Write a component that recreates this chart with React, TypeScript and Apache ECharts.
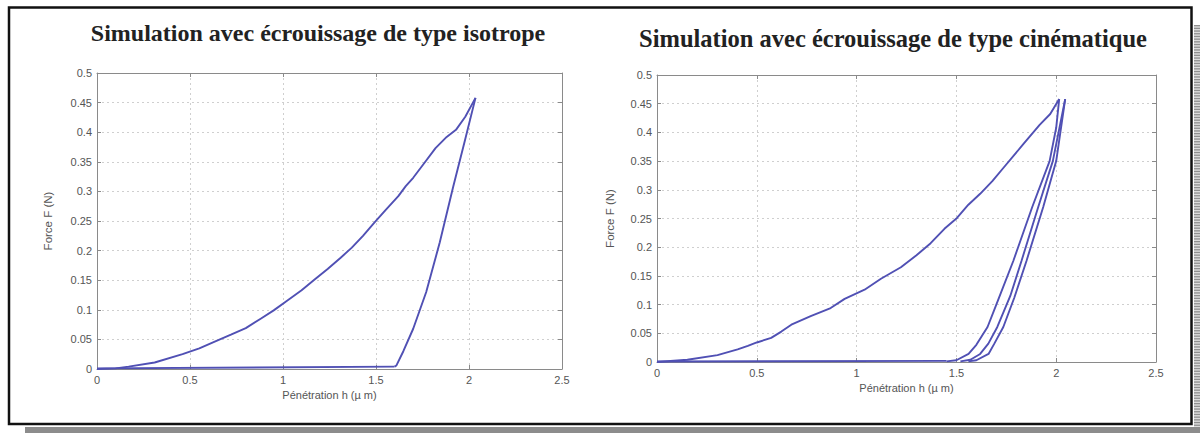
import React, { useEffect, useRef } from "react";
import * as echarts from "echarts";

// ---------- Data ----------
const titleLeft = "Simulation avec écrouissage de type isotrope";
const titleRight = "Simulation avec écrouissage de type cinématique";
const xName = "Pénétration h (µ m)";
const yName = "Force F (N)";

// Isotropic hardening: loading, unloading, residual baseline
const isoLoading: number[][] = [
  [0, 0], [0.1, 0.001], [0.17, 0.004], [0.31, 0.011], [0.46, 0.025], [0.55, 0.035],
  [0.63, 0.046], [0.72, 0.058], [0.8, 0.069], [0.88, 0.085], [0.95, 0.099], [1.02, 0.115],
  [1.1, 0.133], [1.17, 0.151], [1.24, 0.169], [1.31, 0.188], [1.37, 0.205], [1.43, 0.225],
  [1.49, 0.247], [1.55, 0.268], [1.62, 0.292], [1.66, 0.309], [1.7, 0.323], [1.76, 0.348],
  [1.82, 0.373], [1.88, 0.392], [1.93, 0.404], [1.98, 0.426], [2.035, 0.458],
];
const isoUnloading: number[][] = [
  [2.035, 0.458], [1.978, 0.386], [1.915, 0.308], [1.843, 0.214], [1.77, 0.13],
  [1.7, 0.068], [1.647, 0.03], [1.61, 0.006], [1.6, 0.004],
];
const isoBaseline: number[][] = [[1.6, 0.004], [0, 0.001]];

// Kinematic hardening: loading, then unload / reload / unload cycles
const kinLoading: number[][] = [
  [0, 0], [0.152, 0.004], [0.303, 0.012], [0.404, 0.022], [0.455, 0.028], [0.5, 0.034],
  [0.572, 0.042], [0.623, 0.053], [0.673, 0.065], [0.77, 0.08], [0.87, 0.094], [0.94, 0.11],
  [1.04, 0.126], [1.122, 0.145], [1.222, 0.165], [1.3, 0.186], [1.371, 0.207], [1.44, 0.232],
  [1.503, 0.251], [1.56, 0.274], [1.619, 0.293], [1.68, 0.315], [1.735, 0.338], [1.834, 0.379],
  [1.917, 0.413], [1.97, 0.432], [2.015, 0.458],
];
const kinUnload1: number[][] = [
  [2.015, 0.458], [2.0, 0.408], [1.967, 0.35], [1.88, 0.27], [1.785, 0.176],
  [1.7, 0.1], [1.656, 0.061], [1.6, 0.03], [1.561, 0.014], [1.5, 0.003], [1.45, 0.001],
];
const kinReload: number[][] = [
  [1.52, 0.001], [1.57, 0.004], [1.619, 0.014], [1.66, 0.032], [1.705, 0.061],
  [1.77, 0.115], [1.826, 0.176], [1.91, 0.27], [1.983, 0.35], [2.045, 0.458],
];
const kinUnload2: number[][] = [
  [2.045, 0.458], [2.0, 0.35], [1.935, 0.27], [1.851, 0.176], [1.79, 0.112],
  [1.735, 0.061], [1.69, 0.032], [1.661, 0.014], [1.6, 0.003], [1.56, 0.001],
];
const kinBaseline: number[][] = [[1.45, 0.002], [0, 0.001]];

const LINE = "#5050b4";

export default function App() {
  const ref = useRef<HTMLDivElement>(null);
  useEffect(() => {
    if (!ref.current) return;
    const chart = echarts.init(ref.current, undefined, { renderer: "svg" });

    const labelStyle = { color: "#555", fontSize: 11, fontFamily: "Liberation Sans, Arial, sans-serif" };
    const axisLineStyle = { lineStyle: { color: "#8a8a8a", width: 1 } };
    const splitLine = { show: true, lineStyle: { color: "#cfcfcf", type: [2, 3] as any, width: 1 } };

    const mainX = (gridIndex: number, gap: number) => ({
      type: "value", gridIndex, min: 0, max: 2.5, interval: 0.5, position: "bottom",
      name: xName, nameLocation: "middle", nameGap: gap,
      nameTextStyle: { ...labelStyle, fontSize: 11 },
      axisLine: { show: true, onZero: false, ...axisLineStyle },
      axisTick: { show: true, inside: true, length: 4, lineStyle: { color: "#8a8a8a" } },
      axisLabel: { ...labelStyle, margin: 5 },
      splitLine,
    });
    const topX = (gridIndex: number) => ({
      type: "value", gridIndex, min: 0, max: 2.5, interval: 0.5, position: "top",
      axisLine: { show: true, onZero: false, ...axisLineStyle },
      axisTick: { show: true, inside: true, length: 4, lineStyle: { color: "#8a8a8a" } },
      axisLabel: { show: false }, splitLine: { show: false },
    });
    const mainY = (gridIndex: number, gap: number) => ({
      type: "value", gridIndex, min: 0, max: 0.5, interval: 0.05, position: "left",
      name: yName, nameLocation: "middle", nameGap: gap,
      nameTextStyle: { ...labelStyle, fontSize: 11.5 },
      axisLine: { show: true, onZero: false, ...axisLineStyle },
      axisTick: { show: true, inside: true, length: 4, lineStyle: { color: "#8a8a8a" } },
      axisLabel: { ...labelStyle, margin: 5, formatter: (v: number) => String(Math.round(v * 100) / 100) },
      splitLine,
    });
    const rightY = (gridIndex: number) => ({
      type: "value", gridIndex, min: 0, max: 0.5, interval: 0.05, position: "right",
      axisLine: { show: true, onZero: false, ...axisLineStyle },
      axisTick: { show: true, inside: true, length: 4, lineStyle: { color: "#8a8a8a" } },
      axisLabel: { show: false }, splitLine: { show: false },
    });

    const line = (data: number[][], xi: number, yi: number) => ({
      type: "line", xAxisIndex: xi, yAxisIndex: yi, data, showSymbol: false, symbol: "none",
      smooth: false, lineStyle: { color: LINE, width: 1.9 }, z: 5,
    });

    const stripes: any[] = [];
    for (let y = 25; y < 433; y += 2.7) {
      stripes.push({ type: "rect", shape: { x: 1194, y, width: 6, height: 1.3 }, style: { fill: "#8f8f8f" }, silent: true });
    }

    chart.setOption({
      animation: false,
      backgroundColor: "#ffffff",
      grid: [
        { left: 97, right: 638, top: 73, bottom: 64, show: false },
        { left: 657, right: 44, top: 75, bottom: 71, show: false },
      ],
      xAxis: [mainX(0, 19), topX(0), mainX(1, 15), topX(1)],
      yAxis: [mainY(0, 43), rightY(0), mainY(1, 41), rightY(1)],
      series: [
        line(isoLoading, 0, 0),
        line(isoUnloading, 0, 0),
        line(isoBaseline, 0, 0),
        line(kinLoading, 2, 2),
        line(kinUnload1, 2, 2),
        line(kinReload, 2, 2),
        line(kinUnload2, 2, 2),
        line(kinBaseline, 2, 2),
      ],
      graphic: [
        { type: "rect", shape: { x: 1194, y: 25, width: 6, height: 408 }, style: { fill: "#dcdcdc" }, silent: true },
        ...stripes,
        { type: "rect", shape: { x: 25, y: 427, width: 1175, height: 6 }, style: { fill: "#8c8c8c" }, silent: true },
        { type: "rect", shape: { x: 9, y: 7.5, width: 1182.5, height: 416.5 }, style: { fill: "none", stroke: "#111", lineWidth: 2.5 }, silent: true },
        {
          type: "text", x: 318, y: 33, silent: true,
          style: { text: titleLeft, fill: "#222", font: "bold 24px 'Liberation Serif', 'Times New Roman', serif", textAlign: "center", textVerticalAlign: "middle" },
        },
        {
          type: "text", x: 893, y: 38, silent: true,
          style: { text: titleRight, fill: "#222", font: "bold 24.5px 'Liberation Serif', 'Times New Roman', serif", textAlign: "center", textVerticalAlign: "middle" },
        },
      ],
    });
    return () => chart.dispose();
  }, []);
  return <div ref={ref} style={{ position: "absolute", left: 0, top: 0, width: 1200, height: 433 }} />;
}
